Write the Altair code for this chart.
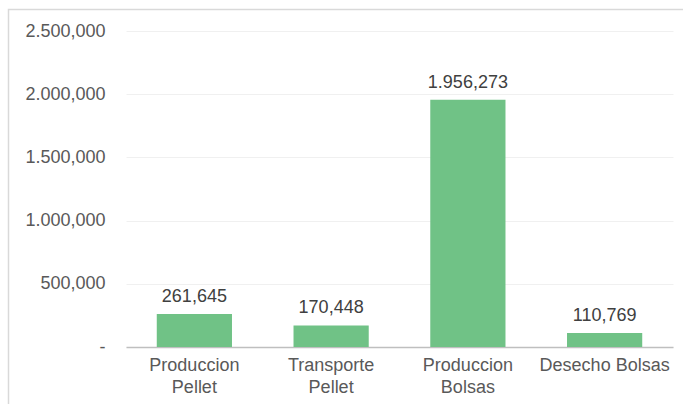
import altair as alt
import pandas as pd

categories = ["Produccion Pellet", "Transporte Pellet", "Produccion Bolsas", "Desecho Bolsas"]
values = [261645, 170448, 1956273, 110769]
value_labels = ["261,645", "170,448", "1.956,273", "110,769"]
y_ticks = [0, 500000, 1000000, 1500000, 2000000, 2500000]

df = pd.DataFrame({"cat": categories, "val": values, "lab": value_labels})

FONT = "Liberation Sans"
W, H = 547, 316

base = alt.Chart(df)

y_enc = alt.Y(
    "val:Q",
    scale=alt.Scale(domain=[0, 2500000], nice=False),
    axis=alt.Axis(
        values=y_ticks,
        title=None,
        domain=False,
        ticks=False,
        grid=True,
        gridColor="#f0f0f0",
        gridWidth=1,
        labelPadding=21,
        labelFont=FONT,
        labelFontSize=18,
        labelColor="#595959",
        labelExpr="datum.value == 0 ? '-' : (datum.value >= 1000000 ? replace(format(datum.value, ','), ',', '.') : format(datum.value, ','))",
    ),
)

x_enc = alt.X(
    "cat:N",
    sort=categories,
    scale=alt.Scale(paddingInner=0.45, paddingOuter=0.225),
    axis=alt.Axis(
        title=None,
        labelAngle=0,
        ticks=False,
        domain=True,
        domainColor="#bfbfbf",
        domainWidth=1.5,
        labelPadding=9,
        labelFont=FONT,
        labelFontSize=18,
        labelColor="#595959",
        labelLineHeight=22,
        labelExpr="datum.value == 'Desecho Bolsas' ? datum.value : split(datum.value, ' ')",
    ),
)

bars = base.mark_bar(color="#70c286").encode(x=x_enc, y=y_enc)

labels = base.mark_text(
    font=FONT, fontSize=18, color="#404040", baseline="alphabetic", dy=-12
).encode(x=alt.X("cat:N", sort=categories), y="val:Q", text="lab:N")

frame = alt.Chart(pd.DataFrame({"a": [0]})).mark_rect(
    fill=None, stroke="#d9d9d9", strokeWidth=1.5
).encode(
    x=alt.value(-117.5), x2=alt.value(720), y=alt.value(-21.5), y2=alt.value(450)
)

chart = alt.layer(bars, labels, frame).properties(
    width=W,
    height=H,
    autosize=alt.AutoSizeParams(type="none"),
    padding={"left": 126, "top": 31, "right": 10, "bottom": 57},
    background="white",
).configure_view(stroke=None)

chart.save("out.html", embed_options={"renderer": "svg", "actions": False})
